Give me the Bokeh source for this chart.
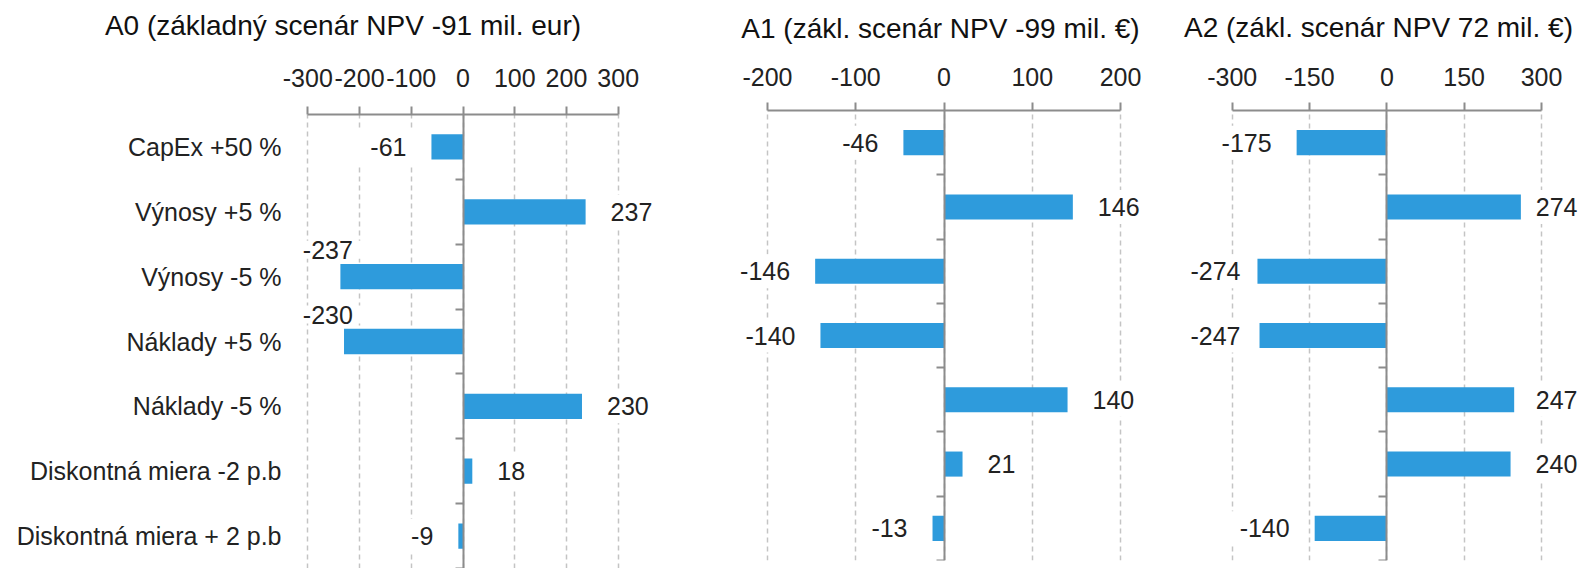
from bokeh.plotting import figure
from bokeh.models import FixedTicker, LinearAxis, Range1d, ColumnDataSource
from bokeh.layouts import row, column
from bokeh.embed import file_html
from bokeh.resources import INLINE
from bokeh.core.properties import value

# ---------------- data ----------------
categories = ["CapEx +50 %", "Výnosy +5 %", "Výnosy -5 %", "Náklady +5 %",
              "Náklady -5 %", "Diskontná miera -2 p.b", "Diskontná miera + 2 p.b"]
a0_values = [-61, 237, -237, -230, 230, 18, -9]
a0_labels = ["-61", "237", "-237", "-230", "230", "18", "-9"]
a1_values = [-46, 146, -146, -140, 140, 21, -13]
a1_labels = ["-46", "146", "-146", "-140", "140", "21", "-13"]
a2_values = [-175, 260, -251, -247, 247, 240, -140]   # bar lengths as drawn
a2_labels = ["-175", "274", "-274", "-247", "247", "240", "-140"]
titles = ["A0 (základný scenár NPV -91 mil. eur)",
          "A1 (zákl. scenár NPV -99 mil. €)",
          "A2 (zákl. scenár NPV 72 mil. €)"]
a0_ticks = [-300, -200, -100, 0, 100, 200, 300]
a1_ticks = [-200, -100, 0, 100, 200]
a2_ticks = [-300, -150, 0, 150, 300]

# ---------------- style ----------------
FONT = "Liberation Sans"
BAR = "#2e9bdc"
AXIS = "#8c8c8c"
GRID = "#c4c4c4"
TXT = "#222222"
LBL_PX = 25
PAD = 13
GAP = 25
HEIGHT = 568
TICK_LABEL_H = 28

n = len(categories)
ypos = [n - 1 - i for i in range(n)]


def text_w(t):
    return sum(0.333 if c == "-" else 0.556 for c in t) * LBL_PX


def make_panel(title, values, labels, ticks, fig_left, width, bl, bt, bb,
               tick_left_px, tick_right_px, title_cx, title_base,
               tick_base, show_cats, move_limit, clamp):
    t0, t1 = ticks[0], ticks[-1]
    scale = (tick_right_px - tick_left_px) / (t1 - t0)
    zero_px = tick_left_px - t0 * scale
    frame_left = fig_left + bl
    frame_right = fig_left + width
    xs = (frame_left - zero_px) / scale
    xe = (frame_right - zero_px) / scale

    def to_data(px):
        return (px - zero_px) / scale

    p = figure(width=width, height=HEIGHT, output_backend="svg", toolbar_location=None,
               x_range=Range1d(xs, xe), y_range=Range1d(-0.5, n - 0.5),
               x_axis_location="above", y_axis_location=None,
               min_border_left=bl, min_border_right=0,
               min_border_top=bt, min_border_bottom=bb)
    p.outline_line_color = None
    p.background_fill_color = "white"
    p.border_fill_color = "white"

    label_standoff = bt - 8 - tick_base
    xa = p.xaxis[0]
    xa.ticker = FixedTicker(ticks=ticks)
    xa.bounds = (t0, t1)
    xa.major_label_overrides = {t: str(t) for t in ticks}
    xa.major_tick_out = 8
    xa.major_tick_in = 0
    xa.minor_tick_out = 0
    xa.minor_tick_in = 0
    xa.axis_line_color = AXIS
    xa.axis_line_width = 2
    xa.major_tick_line_color = AXIS
    xa.major_tick_line_width = 2
    xa.major_label_text_font = FONT
    xa.major_label_text_font_size = "25px"
    xa.major_label_text_color = TXT
    xa.major_label_standoff = label_standoff

    # title drawn as the single label of an outer axis above the plot
    tc = round(to_data(title_cx), 3)
    ta = LinearAxis(ticker=FixedTicker(ticks=[tc]), major_label_overrides={tc: title})
    ta.axis_line_color = None
    ta.major_tick_line_color = None
    ta.minor_tick_line_color = None
    ta.major_tick_out = 0
    ta.major_tick_in = 0
    ta.major_label_text_font = FONT
    ta.major_label_text_font_size = "28px"
    ta.major_label_text_color = "#111111"
    ta.major_label_standoff = max(0, int(round(bt - 8 - label_standoff - TICK_LABEL_H - title_base)))
    p.add_layout(ta, "above")

    p.xgrid.grid_line_color = GRID
    p.xgrid.grid_line_dash = "5 4"
    p.xgrid.grid_line_width = 1.5
    p.ygrid.visible = False

    if show_cats:
        ca = LinearAxis(ticker=FixedTicker(ticks=ypos),
                        major_label_overrides={y: c for y, c in zip(ypos, categories)})
        ca.axis_line_color = None
        ca.major_tick_line_color = None
        ca.minor_tick_line_color = None
        ca.major_tick_out = 0
        ca.major_tick_in = 0
        ca.major_label_standoff = 5
        ca.major_label_text_font = FONT
        ca.major_label_text_font_size = "25px"
        ca.major_label_text_color = TXT
        p.add_layout(ca, "left")

    # axis at zero with ticks between categories
    bounds = sorted(y - 0.5 for y in ypos)
    za = LinearAxis(fixed_location=0, ticker=FixedTicker(ticks=bounds),
                    major_label_overrides={b: "" for b in bounds})
    za.major_tick_in = 8
    za.major_tick_out = 0
    za.minor_tick_in = 0
    za.minor_tick_out = 0
    za.axis_line_color = AXIS
    za.axis_line_width = 2
    za.major_tick_line_color = AXIS
    za.major_tick_line_width = 2
    za.major_label_text_color = None
    za.major_label_standoff = 0
    p.add_layout(za, "right")

    src = ColumnDataSource(dict(y=ypos, v=values))
    p.hbar(y="y", left=0, right="v", height=0.39, fill_color=BAR, line_color=None, source=src)

    # value labels (pixel layout computed from the scale)
    norm = dict(x=[], y=[], t=[], off=[], align=[])
    moved = dict(x=[], y=[], t=[])
    for v, t, y in zip(values, labels, ypos):
        w = text_w(t)
        end_px = zero_px + v * scale
        if v >= 0:
            left = end_px + GAP
            right = left + w
        else:
            right = end_px - GAP
            left = right - w
        if v < 0 and move_limit is not None and left < tick_left_px + move_limit:
            moved["x"].append(to_data(tick_left_px - 5)); moved["y"].append(y); moved["t"].append(t)
            continue
        if clamp is not None:
            lo, hi = clamp
            if right > hi:
                left -= right - hi; right = hi
            if left < lo:
                right += lo - left; left = lo
        norm["y"].append(y); norm["t"].append(t)
        if v >= 0:
            norm["x"].append(to_data(left)); norm["off"].append(-PAD); norm["align"].append("left")
        else:
            norm["x"].append(to_data(right)); norm["off"].append(PAD); norm["align"].append("right")
    p.text(x="x", y="y", text="t", x_offset="off", text_align="align",
           source=ColumnDataSource(norm), text_baseline="middle",
           text_font=value(FONT), text_font_size="25px", text_color=TXT,
           background_fill_color="white",
           padding=dict(left=PAD, right=PAD, top=8, bottom=8))
    if moved["x"]:
        p.text(x="x", y="y", text="t", source=ColumnDataSource(moved),
               x_offset=-PAD, y_offset=-27, text_align="left", text_baseline="middle",
               text_font=value(FONT), text_font_size="25px", text_color=TXT,
               background_fill_color="white",
               padding=dict(left=PAD, right=PAD, top=0, bottom=0))
    return p


p0 = make_panel(titles[0], a0_values, a0_labels, a0_ticks, 0, 700, 286, 114, 0,
                307.3, 617.7, 342.5, 33, 86, True, -20, None)
p1 = make_panel(titles[1], a1_values, a1_labels, a1_ticks, 700, 460, 0, 110, 8,
                767.0, 1120.0, 940, 36, 85, False, None, None)
p2 = make_panel(titles[2], a2_values, a2_labels, a2_ticks, 1160, 421, 0, 110, 8,
                1231.7, 1541.0, 1378, 35, 85, False, None, (1190, 1577))

layout = row(column(p0), column(p1), column(p2))
open("out.html", "w").write(file_html(layout, INLINE))
